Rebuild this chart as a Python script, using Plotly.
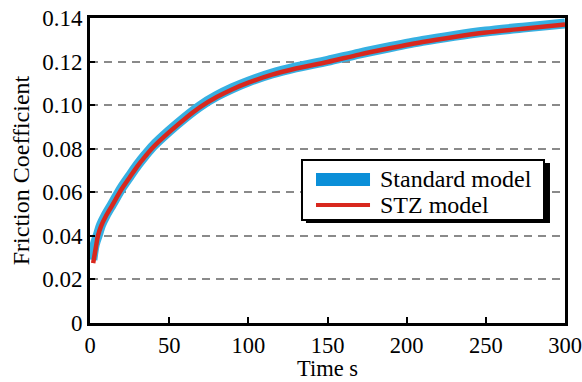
import plotly.graph_objects as go

# Friction coefficient over time for the two models
time_s = [2, 4, 5, 7, 10, 14, 20, 25, 30, 35, 40, 50, 60, 70, 80, 90, 100, 115,
          130, 150, 170, 190, 210, 230, 250, 275, 300]
stz_mu = [0.0275, 0.036, 0.040, 0.0445, 0.049, 0.054, 0.0615, 0.0668, 0.072,
          0.0766, 0.0808, 0.0876, 0.0938, 0.0993, 0.1037, 0.1073, 0.1103, 0.1140,
          0.1168, 0.1198, 0.1232, 0.1262, 0.1290, 0.1313, 0.1333, 0.1352, 0.1370]
standard_time_s = [1.5, 3, 5, 7, 10, 14, 20, 25, 30, 35, 40, 50, 60, 70, 80, 90, 100,
                   115, 130, 150, 170, 190, 210, 230, 250, 275, 300]
standard_mu = [0.029, 0.036, 0.0405, 0.045, 0.0495, 0.0545, 0.062, 0.0673, 0.0725,
               0.0771, 0.0813, 0.0881, 0.0943, 0.0998, 0.1042, 0.1078, 0.1108, 0.1145,
               0.1173, 0.1203, 0.1237, 0.1267, 0.1295, 0.1318, 0.1338, 0.1357, 0.1375]

series_names = ["Standard model", "STZ model"]
x_title = "Time s"
y_title = "Friction Coefficient"
y_ticks = [0, 0.02, 0.04, 0.06, 0.08, 0.10, 0.12, 0.14]
y_tick_text = ["0", "0.02", "0.04", "0.06", "0.08", "0.10", "0.12", "0.14"]
x_ticks = [0, 50, 100, 150, 200, 250, 300]

FONT = "Liberation Serif"
BAND_BLUE = "#36b0e2"
KEY_BLUE = "#0b8fd8"
RED = "#d8281e"

fig = go.Figure()
fig.add_trace(go.Scatter(x=standard_time_s, y=standard_mu, mode="lines",
                         name=series_names[0],
                         line=dict(color=BAND_BLUE, width=10, shape="spline",
                                   smoothing=0.8),
                         showlegend=False))
fig.add_trace(go.Scatter(x=time_s, y=stz_mu, mode="lines", name=series_names[1],
                         line=dict(color=RED, width=4.5, shape="spline",
                                   smoothing=0.8),
                         showlegend=False))

# boxed key with a drop shadow, in paper coordinates
shapes = [
    dict(type="rect", xref="paper", yref="paper", x0=0.4547, x1=0.9684,
         y0=0.3279, y1=0.5246, fillcolor="black", line=dict(width=0), layer="above"),
    dict(type="rect", xref="paper", yref="paper", x0=0.4463, x1=0.9558,
         y0=0.3377, y1=0.5344, fillcolor="white",
         line=dict(color="black", width=2), layer="above"),
    dict(type="rect", xref="paper", yref="paper", x0=0.4758, x1=0.5895,
         y0=0.4492, y1=0.4918, fillcolor=KEY_BLUE, line=dict(width=0), layer="above"),
    dict(type="line", xref="paper", yref="paper", x0=0.4758, x1=0.5895,
         y0=0.3869, y1=0.3869, line=dict(color=RED, width=4), layer="above"),
]
annotations = [
    dict(text=series_names[0], xref="paper", yref="paper", x=0.6064, y=0.4705,
         xanchor="left", yanchor="middle", showarrow=False,
         font=dict(family=FONT, size=24, color="black")),
    dict(text=series_names[1], xref="paper", yref="paper", x=0.6064, y=0.3869,
         xanchor="left", yanchor="middle", showarrow=False,
         font=dict(family=FONT, size=24, color="black")),
    # x-axis title, sitting at the foot of the figure below the tick labels
    dict(text=x_title, xref="paper", yref="paper", x=0.5, y=0,
         xanchor="center", yanchor="bottom", yshift=-59, borderpad=0,
         showarrow=False, font=dict(family=FONT, size=22.5, color="black")),
]

fig.update_layout(
    width=582, height=382, autosize=False,
    margin=dict(l=90, r=17, t=18, b=59, autoexpand=False),
    paper_bgcolor="white", plot_bgcolor="white",
    font=dict(family=FONT, size=22.5, color="black"),
    showlegend=False,
    shapes=shapes,
    annotations=annotations,
    xaxis=dict(range=[0, 300], tickvals=x_ticks, ticks="inside", ticklen=6,
               tickwidth=2, tickcolor="black", showline=True, linewidth=3,
               linecolor="black", mirror=True, showgrid=False, zeroline=False,
               automargin=False, ticklabeloverflow="allow",
               tickfont=dict(size=22.5)),
    yaxis=dict(range=[0, 0.14], tickvals=y_ticks, ticktext=y_tick_text,
               ticks="inside", ticklen=5, tickwidth=2, tickcolor="black",
               showline=True, linewidth=3, linecolor="black", mirror=True,
               showgrid=True, gridcolor="#8a8a8a", griddash="8px,6px", gridwidth=1.8,
               zeroline=False, automargin=False, ticklabeloverflow="allow",
               title=dict(text=y_title, standoff=6, font=dict(size=24)),
               tickfont=dict(size=23)),
)

fig.write_html("out.html")
